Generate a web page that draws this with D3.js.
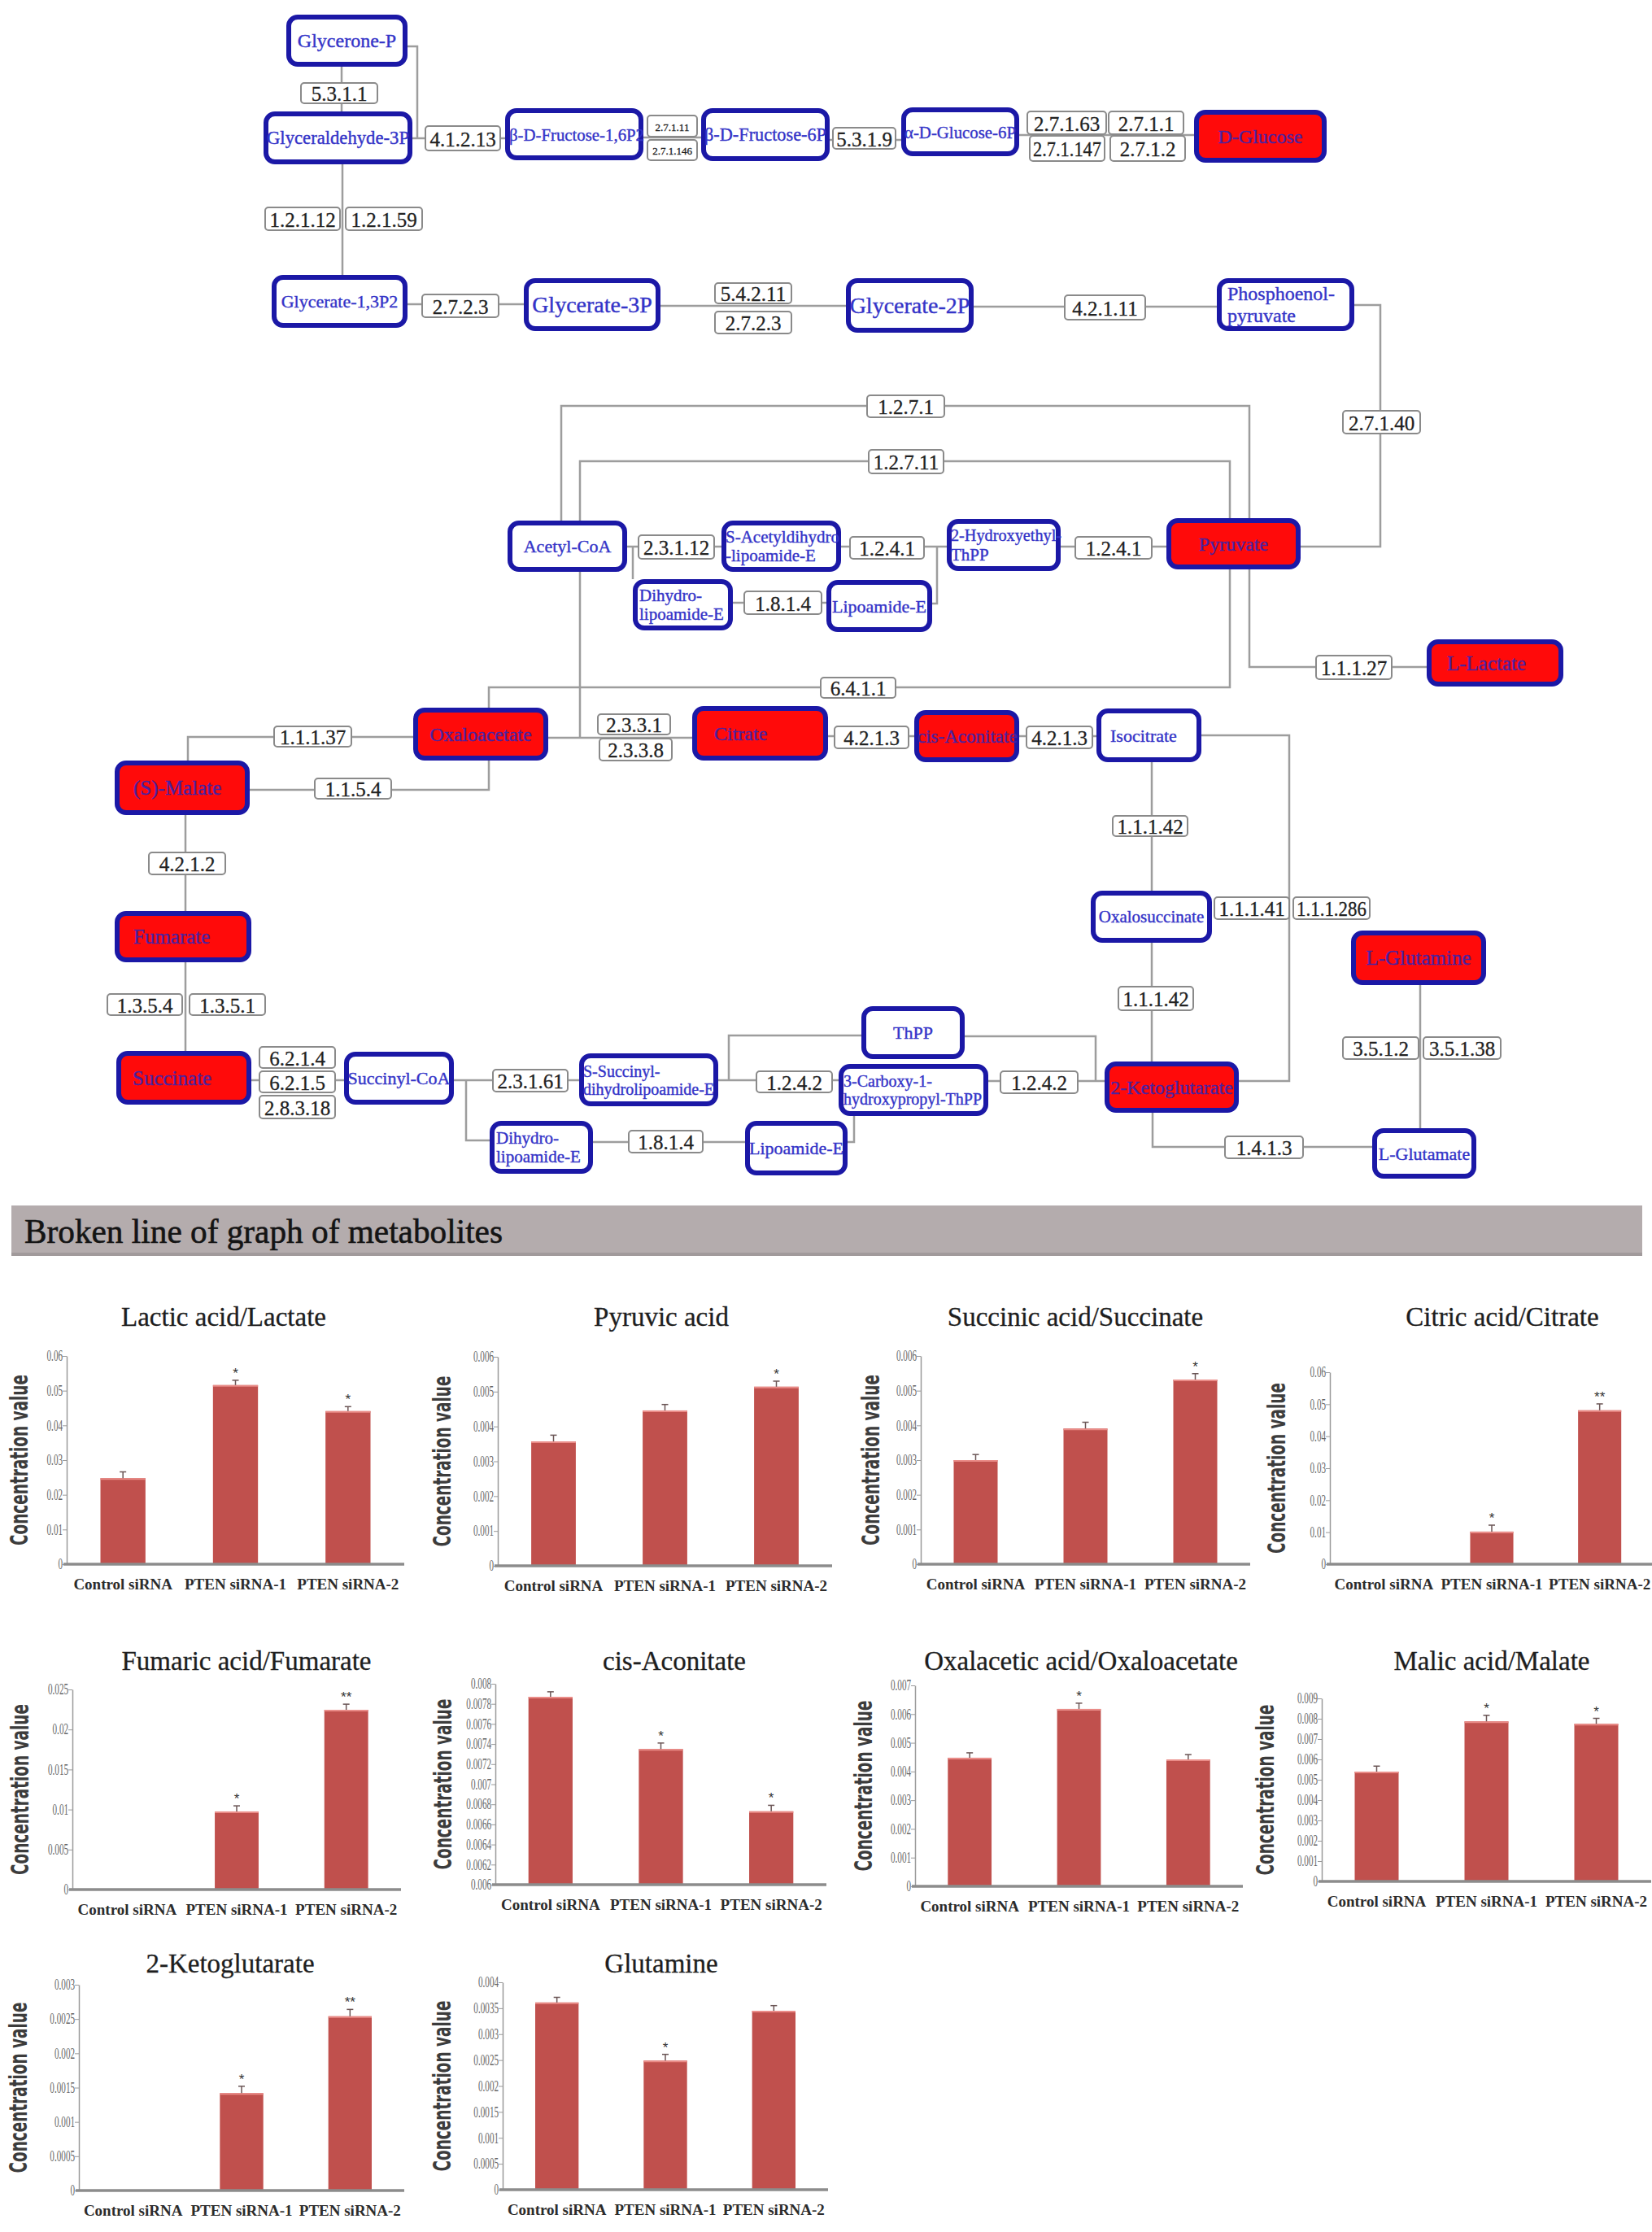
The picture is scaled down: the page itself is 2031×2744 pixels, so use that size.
<!DOCTYPE html>
<html>
<head>
<meta charset="utf-8">
<script src="https://cdn.jsdelivr.net/npm/d3@7/dist/d3.min.js"></script>
<style>
    body { margin: 0; background: #fff; }
    svg { display: block; }
</style>
</head>
<body>
<svg id="figure" width="2031" height="2744"></svg>
<script>
// ---- bar chart data ----
const groups = ["Control siRNA", "PTEN siRNA-1", "PTEN siRNA-2"];

const metabolites = [
    "Lactic acid/Lactate", "Pyruvic acid", "Succinic acid/Succinate", "Citric acid/Citrate",
    "Fumaric acid/Fumarate", "cis-Aconitate", "Oxalacetic acid/Oxaloacetate", "Malic acid/Malate",
    "2-Ketoglutarate", "Glutamine"
];

const concentration = [
    [0.0248, 0.0516, 0.0441],
    [0.00357, 0.00446, 0.00514],
    [0.0030, 0.00391, 0.00532],
    [0, 0.0102, 0.0481],
    [0, 0.00976, 0.02246],
    [0.00787, 0.00735, 0.00673],
    [0.00448, 0.00618, 0.00442],
    [0.0054, 0.00787, 0.00775],
    [0, 0.00142, 0.00254],
    [0.00361, 0.00249, 0.00345]
];

const errorBars = [
    [0.0018, 0.0014, 0.0013],
    [0.00018, 0.00017, 0.00016],
    [0.00016, 0.00018, 0.00017],
    [0, 0.002, 0.002],
    [0, 0.0007, 0.0007],
    [0.00005, 0.00006, 0.00006],
    [0.00017, 0.0002, 0.00017],
    [0.00027, 0.0003, 0.00027],
    [0, 0.0001, 0.0001],
    [0.0001, 0.00012, 0.0001]
];

const significance = [
    ["", "*", "*"], ["", "", "*"], ["", "", "*"], ["", "*", "**"], ["", "*", "**"],
    ["", "*", "*"], ["", "*", ""], ["", "*", "*"], ["", "*", "**"], ["", "*", ""]
];

const yTickValues = [
    [0, 0.01, 0.02, 0.03, 0.04, 0.05, 0.06],
    [0, 0.001, 0.002, 0.003, 0.004, 0.005, 0.006],
    [0, 0.001, 0.002, 0.003, 0.004, 0.005, 0.006],
    [0, 0.01, 0.02, 0.03, 0.04, 0.05, 0.06],
    [0, 0.005, 0.01, 0.015, 0.02, 0.025],
    [0.006, 0.0062, 0.0064, 0.0066, 0.0068, 0.007, 0.0072, 0.0074, 0.0076, 0.0078, 0.008],
    [0, 0.001, 0.002, 0.003, 0.004, 0.005, 0.006, 0.007],
    [0, 0.001, 0.002, 0.003, 0.004, 0.005, 0.006, 0.007, 0.008, 0.009],
    [0, 0.0005, 0.001, 0.0015, 0.002, 0.0025, 0.003],
    [0, 0.0005, 0.001, 0.0015, 0.002, 0.0025, 0.003, 0.0035, 0.004]
];

// panel placement on the page
const panels = [
    { x: 82, w: 415, top: 1667, bottom: 1923, titleX: 275, titleY: 1630, labelX: 23 },
    { x: 612, w: 411, top: 1668, bottom: 1925, titleX: 813, titleY: 1630, labelX: 543 },
    { x: 1132, w: 405, top: 1667, bottom: 1923, titleX: 1322, titleY: 1630, labelX: 1070 },
    { x: 1635, w: 398, top: 1687, bottom: 1923, titleX: 1847, titleY: 1630, labelX: 1569 },
    { x: 89, w: 404, top: 2077, bottom: 2323, titleX: 303, titleY: 2053, labelX: 24 },
    { x: 609, w: 407, top: 2070, bottom: 2317, titleX: 829, titleY: 2053, labelX: 544 },
    { x: 1125, w: 403, top: 2072, bottom: 2319, titleX: 1329, titleY: 2053, labelX: 1061 },
    { x: 1625, w: 405, top: 2088, bottom: 2313, titleX: 1834, titleY: 2053, labelX: 1555 },
    { x: 97, w: 400, top: 2440, bottom: 2693, titleX: 283, titleY: 2425, labelX: 22 },
    { x: 618, w: 400, top: 2437, bottom: 2692, titleX: 813, titleY: 2425, labelX: 543 }
];

// ---- pathway map ----
const compounds = [
    { label: ["Glycerone-P"], x: 352, y: 18, w: 149, h: 64, fs: 24 },
    { label: ["Glyceraldehyde-3P"], x: 324, y: 137, w: 183, h: 65, fs: 23 },
    { label: ["β-D-Fructose-1,6P2"], x: 621, y: 133, w: 170, h: 64, fs: 22, pad: 2 },
    { label: ["β-D-Fructose-6P"], x: 862, y: 133, w: 158, h: 65, fs: 23 },
    { label: ["α-D-Glucose-6P"], x: 1108, y: 132, w: 145, h: 60, fs: 22 },
    { label: ["D-Glucose"], x: 1468, y: 135, w: 163, h: 65, fs: 24, hit: true },
    { label: ["Glycerate-1,3P2"], x: 334, y: 338, w: 167, h: 65, fs: 22 },
    { label: ["Glycerate-3P"], x: 644, y: 342, w: 168, h: 65, fs: 28 },
    { label: ["Glycerate-2P"], x: 1040, y: 342, w: 157, h: 67, fs: 28 },
    { label: ["Phosphoenol-", "pyruvate"], x: 1496, y: 342, w: 169, h: 65, fs: 24, pad: 10 },
    { label: ["Acetyl-CoA"], x: 624, y: 640, w: 147, h: 63, fs: 22 },
    { label: ["S-Acetyldihydro", "-lipoamide-E"], x: 887, y: 640, w: 147, h: 63, fs: 21, pad: 2 },
    { label: ["2-Hydroxyethyl-", "ThPP"], x: 1164, y: 638, w: 140, h: 64, fs: 21, pad: 2 },
    { label: ["Pyruvate"], x: 1434, y: 637, w: 165, h: 63, fs: 24, hit: true },
    { label: ["Dihydro-", "lipoamide-E"], x: 778, y: 712, w: 123, h: 63, fs: 21, pad: 5 },
    { label: ["Lipoamide-E"], x: 1016, y: 713, w: 130, h: 64, fs: 22 },
    { label: ["L-Lactate"], x: 1754, y: 786, w: 168, h: 58, fs: 25, hit: true, pad: 22 },
    { label: ["Oxaloacetate"], x: 508, y: 870, w: 166, h: 65, fs: 24, hit: true },
    { label: ["Citrate"], x: 851, y: 868, w: 167, h: 67, fs: 24, hit: true, pad: 24 },
    { label: ["cis-Aconitate"], x: 1124, y: 873, w: 129, h: 64, fs: 23, hit: true, pad: 1 },
    { label: ["Isocitrate"], x: 1348, y: 871, w: 129, h: 66, fs: 22, pad: 14 },
    { label: ["(S)-Malate"], x: 141, y: 935, w: 166, h: 67, fs: 25, hit: true, pad: 20 },
    { label: ["Oxalosuccinate"], x: 1341, y: 1095, w: 149, h: 64, fs: 21 },
    { label: ["L-Glutamine"], x: 1661, y: 1144, w: 166, h: 67, fs: 25, hit: true },
    { label: ["Fumarate"], x: 141, y: 1120, w: 168, h: 63, fs: 25, hit: true, pad: 20 },
    { label: ["ThPP"], x: 1059, y: 1237, w: 127, h: 65, fs: 22 },
    { label: ["Succinate"], x: 143, y: 1292, w: 166, h: 66, fs: 25, hit: true, pad: 17 },
    { label: ["Succinyl-CoA"], x: 423, y: 1293, w: 135, h: 65, fs: 22 },
    { label: ["S-Succinyl-", "dihydrolipoamide-E"], x: 712, y: 1295, w: 171, h: 65, fs: 20, pad: 2 },
    { label: ["3-Carboxy-1-", "hydroxypropyl-ThPP"], x: 1031, y: 1308, w: 184, h: 64, fs: 20, pad: 3 },
    { label: ["2-Ketoglutarate"], x: 1358, y: 1305, w: 165, h: 63, fs: 24, hit: true },
    { label: ["Dihydro-", "lipoamide-E"], x: 602, y: 1378, w: 127, h: 65, fs: 21, pad: 5 },
    { label: ["Lipoamide-E"], x: 916, y: 1378, w: 126, h: 67, fs: 22 },
    { label: ["L-Glutamate"], x: 1687, y: 1387, w: 128, h: 62, fs: 22 }
];

const enzymes = [
    ["5.3.1.1", 370, 102, 94, 25], ["4.1.2.13", 523, 155, 92, 30],
    ["2.7.1.11", 796, 142, 61, 26], ["2.7.1.146", 796, 172, 61, 25],
    ["5.3.1.9", 1024, 157, 77, 26], ["2.7.1.63", 1263, 137, 97, 28],
    ["2.7.1.1", 1363, 137, 92, 28], ["2.7.1.147", 1266, 167, 92, 31],
    ["2.7.1.2", 1365, 167, 92, 31], ["1.2.1.12", 326, 255, 92, 28],
    ["1.2.1.59", 425, 255, 94, 28], ["2.7.2.3", 519, 362, 94, 28],
    ["5.4.2.11", 879, 348, 94, 25], ["2.7.2.3", 879, 383, 94, 27],
    ["4.2.1.11", 1309, 363, 99, 30], ["2.7.1.40", 1651, 505, 95, 28],
    ["1.2.7.1", 1066, 486, 95, 27], ["1.2.7.11", 1068, 553, 92, 29],
    ["2.3.1.12", 785, 658, 93, 29], ["1.2.4.1", 1045, 660, 91, 27],
    ["1.2.4.1", 1322, 660, 94, 27], ["1.8.1.4", 915, 727, 95, 28],
    ["6.4.1.1", 1009, 833, 92, 25], ["1.1.1.27", 1618, 806, 93, 29],
    ["1.1.1.37", 337, 893, 95, 25], ["2.3.3.1", 735, 878, 89, 25],
    ["2.3.3.8", 737, 908, 89, 27], ["4.2.1.3", 1026, 893, 91, 27],
    ["4.2.1.3", 1262, 893, 81, 27], ["1.1.5.4", 387, 957, 94, 25],
    ["1.1.1.42", 1368, 1003, 92, 25], ["4.2.1.2", 183, 1048, 94, 27],
    ["1.1.1.41", 1493, 1103, 92, 27], ["1.1.1.286", 1590, 1103, 94, 27],
    ["1.1.1.42", 1375, 1213, 92, 29], ["1.3.5.4", 132, 1222, 92, 26],
    ["1.3.5.1", 233, 1222, 93, 26], ["3.5.1.2", 1651, 1275, 93, 27],
    ["3.5.1.38", 1750, 1275, 95, 27], ["6.2.1.4", 319, 1287, 93, 26],
    ["6.2.1.5", 319, 1317, 93, 26], ["2.8.3.18", 319, 1347, 93, 28],
    ["2.3.1.61", 606, 1315, 92, 27], ["1.2.4.2", 930, 1317, 93, 26],
    ["1.2.4.2", 1230, 1317, 95, 27], ["1.8.1.4", 773, 1390, 91, 27],
    ["1.4.1.3", 1506, 1397, 96, 27]
];

const links = [
    [[420, 82], [420, 137]],
    [[501, 57], [513, 57], [513, 170]],
    [[507, 170], [621, 170]],
    [[791, 169], [862, 169]],
    [[1020, 172], [1108, 172]],
    [[1253, 166], [1468, 166]],
    [[421, 202], [421, 338]],
    [[501, 374], [644, 374]],
    [[812, 376], [1040, 376]],
    [[1197, 377], [1496, 377]],
    [[1665, 375], [1697, 375], [1697, 672], [1599, 672]],
    [[690, 640], [690, 499], [1536, 499], [1536, 637]],
    [[1536, 700], [1536, 820], [1754, 820]],
    [[713, 907], [713, 567], [1512, 567], [1512, 637]],
    [[1512, 700], [1512, 845], [601, 845], [601, 870]],
    [[771, 672], [887, 672]],
    [[778, 672], [778, 712]],
    [[1034, 672], [1164, 672]],
    [[1152, 672], [1152, 742], [1146, 742]],
    [[1304, 672], [1434, 672]],
    [[901, 741], [1016, 741]],
    [[674, 907], [851, 907]],
    [[508, 906], [231, 906], [231, 935]],
    [[307, 971], [601, 971], [601, 935]],
    [[1018, 905], [1124, 905]],
    [[1253, 905], [1348, 905]],
    [[1416, 937], [1416, 1095]],
    [[1416, 1159], [1416, 1305]],
    [[1477, 904], [1585, 904], [1585, 1329], [1523, 1329]],
    [[228, 1002], [228, 1120]],
    [[228, 1183], [228, 1292]],
    [[309, 1328], [423, 1328]],
    [[558, 1328], [712, 1328]],
    [[573, 1328], [573, 1402], [602, 1402]],
    [[883, 1328], [1031, 1328]],
    [[896, 1328], [896, 1273], [1059, 1273]],
    [[729, 1404], [916, 1404]],
    [[1042, 1404], [1050, 1404], [1050, 1372]],
    [[1215, 1329], [1358, 1329]],
    [[1186, 1274], [1347, 1274], [1347, 1329]],
    [[1417, 1368], [1417, 1410], [1687, 1410]],
    [[1746, 1211], [1746, 1387]]
];

const serif = "'Liberation Serif', 'Times New Roman', serif";
const svg = d3.select("#figure");

svg.append("rect").attr("width", 2031).attr("height", 2744).attr("fill", "white");

const fitText = (sel, max) => {
    sel.each(function(d) {
        const limit = max(d);
        if (this.getComputedTextLength() > limit) {
            d3.select(this).attr("textLength", limit).attr("lengthAdjust", "spacingAndGlyphs");
        }
    });
};

const drawPathway = () => {
    const map = svg.append("g").attr("class", "pathway");

    map.selectAll("path.link")
        .data(links)
        .join("path")
        .attr("class", "link")
        .attr("d", d3.line())
        .attr("fill", "none")
        .attr("stroke", "#9d9d9d")
        .attr("stroke-width", 2.5);

    const enzymeBoxes = map.selectAll("g.enzyme")
        .data(enzymes)
        .join("g")
        .attr("class", "enzyme")
        .attr("transform", d => `translate(${d[1]},${d[2]})`);

    enzymeBoxes.append("rect")
        .attr("width", d => d[3])
        .attr("height", d => d[4])
        .attr("rx", 4)
        .attr("fill", "white")
        .attr("stroke", "#8a8a8a")
        .attr("stroke-width", 2);

    enzymeBoxes.append("text")
        .attr("x", d => d[3] / 2)
        .attr("y", d => d[4] / 2 + 1)
        .attr("text-anchor", "middle")
        .attr("dominant-baseline", "central")
        .attr("font-family", serif)
        .attr("font-size", d => d[3] < 70 ? 13 : 25)
        .attr("fill", "#222")
        .attr("stroke", "#222")
        .attr("stroke-width", 0.3)
        .text(d => d[0])
        .call(fitText, d => d[3] - 8);

    const nodes = map.selectAll("g.compound")
        .data(compounds)
        .join("g")
        .attr("class", "compound")
        .attr("transform", d => `translate(${d.x},${d.y})`);

    nodes.append("rect")
        .attr("x", 3)
        .attr("y", 3)
        .attr("width", d => d.w - 6)
        .attr("height", d => d.h - 6)
        .attr("rx", 11)
        .attr("fill", d => d.hit ? "#ff0a0a" : "white")
        .attr("stroke", "#1b18a6")
        .attr("stroke-width", 6);

    nodes.append("text")
        .attr("font-family", serif)
        .attr("font-size", d => d.fs)
        .attr("fill", d => d.hit ? "#4a22a0" : "#3434c8")
        .attr("stroke", d => d.hit ? "#4a22a0" : "#3434c8")
        .attr("stroke-width", 0.4)
        .attr("text-anchor", d => d.pad !== undefined ? "start" : "middle")
        .selectAll("tspan")
        .data(d => d.label.map((line, i) => ({ line, i, node: d })))
        .join("tspan")
        .attr("x", d => d.node.pad !== undefined ? d.node.pad + 3 : d.node.w / 2)
        .attr("y", d => d.node.h / 2 + (d.i - (d.node.label.length - 1) / 2) * d.node.fs * 1.1)
        .attr("dominant-baseline", "central")
        .text(d => d.line)
        .call(fitText, d => d.node.pad !== undefined ? d.node.w - d.node.pad - 2 : d.node.w - 8);
};

const drawHeader = () => {
    svg.append("rect")
        .attr("x", 14).attr("y", 1484)
        .attr("width", 2005).attr("height", 60)
        .attr("fill", "#a19a9b");
    svg.append("rect")
        .attr("x", 14).attr("y", 1482)
        .attr("width", 2005).attr("height", 58)
        .attr("fill", "#b4acad");
    svg.append("text")
        .attr("x", 30).attr("y", 1528)
        .attr("font-family", serif)
        .attr("font-size", 42)
        .attr("fill", "#141414")
        .attr("stroke", "#141414")
        .attr("stroke-width", 0.6)
        .attr("textLength", 588)
        .attr("lengthAdjust", "spacingAndGlyphs")
        .text("Broken line of graph of metabolites");
};

const tickText = v => String(+v.toFixed(6));

const drawPanel = (p, i) => {
    const ticks = yTickValues[i];
    const rows = groups.map((g, j) => ({
        group: g,
        value: concentration[i][j],
        err: errorBars[i][j],
        mark: significance[i][j]
    }));

    const xScale = d3.scaleBand()
        .domain(groups)
        .range([p.x, p.x + p.w])
        .paddingInner(0.6)
        .paddingOuter(0.3);

    const yScale = d3.scaleLinear()
        .domain(d3.extent(ticks))
        .range([p.bottom, p.top]);

    const panel = svg.append("g").attr("class", "panel");

    panel.append("text")
        .attr("x", p.titleX)
        .attr("y", p.titleY)
        .attr("text-anchor", "middle")
        .attr("font-family", serif)
        .attr("font-size", 33)
        .attr("fill", "#1e1e1e")
        .attr("stroke", "#1e1e1e")
        .attr("stroke-width", 0.3)
        .text(metabolites[i]);

    panel.append("text")
        .attr("transform", `translate(${p.labelX},${(p.top + p.bottom) / 2})rotate(-90)`)
        .attr("text-anchor", "middle")
        .attr("dominant-baseline", "central")
        .attr("font-family", "'DejaVu Sans', sans-serif")
        .attr("font-weight", "bold")
        .attr("font-size", 30)
        .attr("fill", "#3c3c3c")
        .attr("textLength", 210)
        .attr("lengthAdjust", "spacingAndGlyphs")
        .text("Concentration value");

    const yAxis = panel.append("g")
        .attr("transform", `translate(${p.x},0)`)
        .call(d3.axisLeft(yScale).tickValues(ticks).tickFormat(tickText).tickSize(5).tickSizeOuter(0));
    yAxis.select(".domain").attr("stroke", "#9a9a9a").attr("stroke-width", 1.5);
    yAxis.selectAll(".tick line").attr("stroke", "#9a9a9a");
    yAxis.selectAll(".tick text")
        .attr("font-family", serif)
        .attr("font-size", 18)
        .attr("fill", "#666")
        .attr("transform", "scale(0.62,1)");

    const filled = rows.filter(d => d.value > yScale.domain()[0]);

    panel.selectAll("rect.bar")
        .data(filled)
        .join("rect")
        .attr("class", "bar")
        .attr("x", d => xScale(d.group))
        .attr("y", d => yScale(d.value))
        .attr("width", xScale.bandwidth())
        .attr("height", d => yScale.range()[0] - yScale(d.value))
        .attr("fill", "#c0504d");

    panel.selectAll("line.highlight")
        .data(filled)
        .join("line")
        .attr("class", "highlight")
        .attr("x1", d => xScale(d.group))
        .attr("x2", d => xScale(d.group) + xScale.bandwidth())
        .attr("y1", d => yScale(d.value) + 1)
        .attr("y2", d => yScale(d.value) + 1)
        .attr("stroke", "#ea8c88")
        .attr("stroke-width", 2);

    const cx = d => xScale(d.group) + xScale.bandwidth() / 2;
    const withErr = rows.filter(d => d.err > 0);

    panel.selectAll("line.err")
        .data(withErr)
        .join("line")
        .attr("class", "err")
        .attr("x1", cx).attr("x2", cx)
        .attr("y1", d => yScale(d.value))
        .attr("y2", d => yScale(d.value + d.err))
        .attr("stroke", "#6b5656")
        .attr("stroke-width", 1.5);

    panel.selectAll("line.cap")
        .data(withErr)
        .join("line")
        .attr("class", "cap")
        .attr("x1", d => cx(d) - 4).attr("x2", d => cx(d) + 4)
        .attr("y1", d => yScale(d.value + d.err))
        .attr("y2", d => yScale(d.value + d.err))
        .attr("stroke", "#6b5656")
        .attr("stroke-width", 1.5);

    panel.selectAll("text.mark")
        .data(rows.filter(d => d.mark))
        .join("text")
        .attr("class", "mark")
        .attr("x", cx)
        .attr("y", d => yScale(d.value + d.err) - 3)
        .attr("text-anchor", "middle")
        .attr("font-family", "'Liberation Sans', sans-serif")
        .attr("font-size", 17)
        .attr("fill", "#333")
        .text(d => d.mark);

    const xAxis = panel.append("g")
        .attr("transform", `translate(0,${p.bottom})`)
        .call(d3.axisBottom(xScale).tickSize(0).tickPadding(18));
    xAxis.select(".domain")
        .attr("d", `M${p.x - 4},0H${p.x + p.w}`)
        .attr("stroke", "#8c8c8c")
        .attr("stroke-width", 3.5);
    xAxis.selectAll(".tick text")
        .attr("font-family", serif)
        .attr("font-weight", "bold")
        .attr("font-size", 19)
        .attr("fill", "#2c2c2c");
};

drawPathway();
drawHeader();
panels.forEach(drawPanel);
</script>
</body>
</html>
